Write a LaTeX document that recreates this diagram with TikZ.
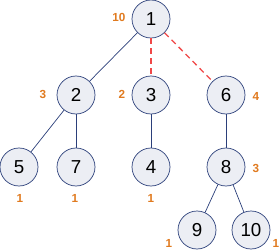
\documentclass[tikz,border=0pt]{standalone}
\usepackage{fontspec}
\setmainfont{Liberation Sans}
\definecolor{bordo}{HTML}{2B3F7A}
\definecolor{sfondo}{HTML}{ECEEF4}
\definecolor{peso}{HTML}{E07A1F}
\definecolor{taglio}{HTML}{F04848}
\begin{document}
\begin{tikzpicture}[
    x=0.03cm, y=-0.03cm,
    nodo/.style={circle, draw=bordo, fill=sfondo, semithick, minimum size=38*0.03cm, inner sep=0pt, font=\fontsize{16}{16}\selectfont},
    arco/.style={draw=bordo, semithick},
    tagliato/.style={draw=taglio, line width=1.1pt, dash pattern=on 5pt off 3.5pt},
    etichetta/.style={text=peso, font=\fontsize{10}{10}\selectfont\bfseries, inner sep=0pt}
]

    % =========================================================================
    % 1. Area del disegno
    % =========================================================================
    \useasboundingbox (0,0) rectangle (279,251);

    % =========================================================================
    % 2. Nodi dell'albero
    % =========================================================================
    \node[nodo] (n1)  at (151,19)  {1};
    \node[nodo] (n2)  at (76,95)   {2};
    \node[nodo] (n3)  at (151,95)  {3};
    \node[nodo] (n6)  at (226,95)  {6};
    \node[nodo] (n5)  at (19,167)  {5};
    \node[nodo] (n7)  at (76,167)  {7};
    \node[nodo] (n4)  at (151,167) {4};
    \node[nodo] (n8)  at (226,167) {8};
    \node[nodo] (n9)  at (197,230) {9};
    \node[nodo] (n10) at (251,230) {10};

    % =========================================================================
    % 3. Archi (solidi e tratteggiati)
    % =========================================================================
    \draw[arco] (n1) -- (n2);
    \draw[tagliato] (n1) -- (n3);
    \draw[tagliato] (n1) -- (n6);
    \draw[arco] (n2) -- (n5);
    \draw[arco] (n2) -- (n7);
    \draw[arco] (n3) -- (n4);
    \draw[arco] (n6) -- (n8);
    \draw[arco] (n8) -- (n9);
    \draw[arco] (n8) -- (n10);

    % =========================================================================
    % 4. Pesi dei sottoalberi
    % =========================================================================
    \node[etichetta] (p1)  at (119,17)  {10};
    \node[etichetta] (p2)  at (43,94)   {3};
    \node[etichetta] (p3)  at (122,94)  {2};
    \node[etichetta] (p6)  at (256,96)  {4};
    \node[etichetta] (p5)  at (20,198)  {1};
    \node[etichetta] (p7)  at (75,198)  {1};
    \node[etichetta] (p4)  at (151,198) {1};
    \node[etichetta] (p8)  at (256,168) {3};
    \node[etichetta] (p9)  at (169,243) {1};
    \node[etichetta] (p10) at (276,243) {1};

\end{tikzpicture}
\end{document}
